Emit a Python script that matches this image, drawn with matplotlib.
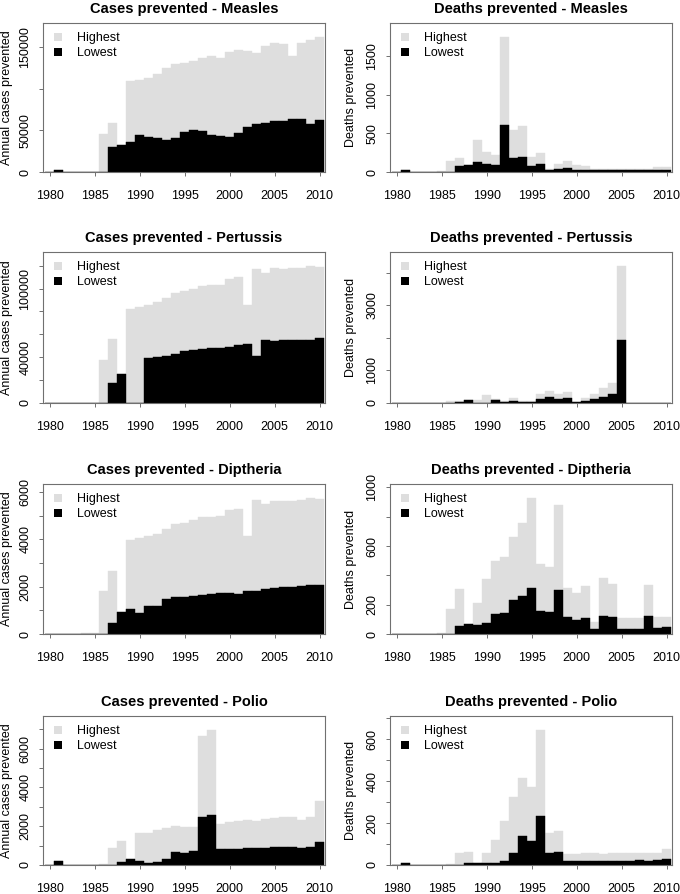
import numpy as np
import matplotlib.pyplot as plt
from matplotlib.patches import Patch

plt.rcParams['font.family'] = ['Liberation Sans', 'DejaVu Sans']

years = list(range(1980, 2011))

# ---- measles ----
measles_cases_hi = [0, 3000, 0, 300, 600, 600, 45600, 58700, 32000, 109500, 111100,
                    113500, 118200, 125000, 129800, 131700, 134100, 136900, 139300, 136900,
                    144000, 147200, 146000, 143600, 152000, 155900, 154000, 139300, 155900,
                    159500, 163100]
measles_cases_lo = [0, 3000, 0, 0, 0, 0, 0, 29800, 32100, 35700, 44800,
                    42500, 40500, 38500, 41300, 48000, 50000, 48800, 44800, 43600,
                    42100, 46400, 53600, 58300, 59500, 61100, 61100, 63900, 63900,
                    58300, 63100]
measles_deaths_hi = [0, 20, 0, 3, 5, 8, 141, 180, 94, 411, 261,
                     219, 1753, 540, 596, 197, 244, 34, 103, 141,
                     94, 77, 39, 39, 39, 39, 39, 39, 39,
                     60, 60]
measles_deaths_lo = [0, 20, 0, 0, 0, 0, 0, 81, 94, 133, 107,
                     86, 604, 176, 197, 77, 99, 26, 43, 51,
                     30, 26, 21, 20, 20, 20, 20, 20, 20,
                     21, 21]

# ---- pertussis ----
pert_cases_hi = [0, 0, 0, 300, 300, 300, 37900, 55600, 25000, 82600, 84100,
                 85600, 87900, 91700, 96400, 97600, 100000, 102600, 102900, 103500,
                 108800, 110000, 86100, 117300, 113800, 117600, 117000, 117600, 118200,
                 120000, 119100]
pert_cases_lo = [0, 0, 0, 0, 0, 0, 300, 17600, 25000, 0, 0,
                 39700, 40600, 41200, 42600, 45300, 46200, 47600, 48200, 48200,
                 49100, 50900, 52000, 41200, 54700, 53800, 55000, 55300, 55300,
                 55300, 56400]
pert_deaths_hi = [0, 0, 0, 0, 0, 10, 50, 50, 103, 83, 238,
                  134, 52, 165, 52, 52, 269, 372, 279, 352,
                  41, 155, 290, 476, 600, 4219, 5, 5, 5,
                  5, 5]
pert_deaths_lo = [0, 0, 0, 0, 0, 0, 5, 20, 103, 5, 10,
                  83, 31, 72, 41, 41, 134, 186, 124, 165,
                  21, 72, 134, 176, 290, 1923, 5, 5, 5,
                  5, 5]

# ---- diptheria ----
dip_cases_hi = [0, 0, 0, 20, 30, 30, 1836, 2683, 946, 3983, 4054,
                4124, 4223, 4435, 4647, 4690, 4802, 4929, 4958, 5000,
                5226, 5297, 4153, 5650, 5494, 5636, 5607, 5636, 5678,
                5763, 5720]
dip_cases_lo = [0, 0, 0, 0, 0, 0, 0, 452, 946, 1073, 876,
                1186, 1186, 1500, 1550, 1580, 1620, 1630, 1680, 1730,
                1730, 1710, 1800, 1830, 1890, 1930, 1980, 1990, 2030,
                2060, 2090]
dip_deaths_hi = [0, 0, 0, 0, 2, 5, 170, 307, 66, 211, 375,
                 498, 525, 664, 757, 930, 477, 457, 877, 311,
                 280, 325, 80, 382, 339, 107, 107, 107, 334,
                 116, 116]
dip_deaths_lo = [0, 0, 0, 0, 0, 0, 0, 52, 66, 61, 77,
                 136, 145, 230, 259, 314, 159, 150, 298, 114,
                 98, 107, 36, 123, 116, 36, 36, 36, 125,
                 39, 45]

# ---- polio ----
polio_cases_hi = [0, 205, 0, 0, 0, 0, 50, 890, 1250, 310, 1640,
                  1640, 1780, 1910, 2000, 1980, 1950, 6660, 6980, 2130,
                  2200, 2270, 2340, 2250, 2390, 2440, 2490, 2490, 2340,
                  2490, 3300]
polio_cases_lo = [0, 205, 0, 0, 0, 0, 0, 0, 170, 310, 205,
                  100, 170, 320, 650, 610, 730, 2480, 2580, 840,
                  840, 840, 890, 890, 890, 920, 920, 920, 890,
                  920, 1190]
polio_deaths_hi = [0, 10, 0, 0, 0, 0, 3, 59, 62, 10, 59,
                   119, 209, 327, 417, 373, 647, 155, 162, 52,
                   52, 56, 56, 54, 56, 57, 57, 57, 56,
                   59, 75]
polio_deaths_lo = [0, 10, 0, 0, 0, 0, 0, 0, 10, 10, 10,
                   10, 19, 56, 138, 116, 236, 57, 60, 21,
                   21, 21, 21, 21, 21, 21, 21, 24, 21,
                   24, 27]

GREY = '#dedede'
BOX = '#707070'


def draw_panel(ax, title, ylabel, hi, lo, ticks, labels, label_x):
    ax.bar(years, hi, width=1, color=GREY, edgecolor=GREY, linewidth=0.3)
    ax.bar(years, lo, width=1, color='black', edgecolor='black', linewidth=0.3)
    ax.set_xlim(1979.25, 2010.6)
    ax.set_ylim(0, 1.1 * max(hi))
    ax.set_xticks(range(1980, 2011, 5))
    ax.set_yticks(ticks)
    ax.set_yticklabels(labels, rotation=90, va='center')
    ax.tick_params(labelsize=9, length=3, width=0.7, color=BOX)
    ax.tick_params(axis='x', pad=10)
    ax.tick_params(axis='y', pad=5.5)
    for s in ax.spines.values():
        s.set_color(BOX)
        s.set_linewidth(0.8)
    ax.set_title(title, fontsize=10.5, fontweight='bold', pad=7)
    ax.set_ylabel(ylabel, fontsize=9)
    ax.yaxis.set_label_coords(label_x, 0.5)
    handles = [Patch(facecolor=GREY, edgecolor='none'),
               Patch(facecolor='black', edgecolor='none')]
    ax.legend(handles, ['Highest', 'Lowest'], loc='upper left', frameon=False,
              fontsize=9, handlelength=0.6, handleheight=0.6, handletextpad=1.2,
              labelspacing=0.25, borderpad=0, borderaxespad=0,
              bbox_to_anchor=(0.04, 0.94))


fig = plt.figure(figsize=(6.8, 8.94), dpi=100)
W, H = 680, 894
rows = [(23, 172), (252, 403), (484, 634), (716, 865)]
cols = [(43, 325), (390, 672)]

panels = [
    ('Measles', measles_cases_hi, measles_cases_lo, [0, 50000, 100000, 150000],
     ['0', '50000', '', '150000'],
     measles_deaths_hi, measles_deaths_lo, [0, 500, 1000, 1500], ['0', '500', '1000', '1500']),
    ('Pertussis', pert_cases_hi, pert_cases_lo, list(range(0, 120001, 20000)),
     ['0', '', '40000', '', '', '100000', ''],
     pert_deaths_hi, pert_deaths_lo, [0, 1000, 2000, 3000, 4000], ['0', '1000', '', '3000', '']),
    ('Diptheria', dip_cases_hi, dip_cases_lo, list(range(0, 6001, 1000)),
     ['0', '', '2000', '', '4000', '', '6000'],
     dip_deaths_hi, dip_deaths_lo, list(range(0, 1001, 200)), ['0', '200', '', '600', '', '1000']),
    ('Polio', polio_cases_hi, polio_cases_lo, list(range(0, 7001, 1000)),
     ['0', '', '2000', '', '4000', '', '6000', ''],
     polio_deaths_hi, polio_deaths_lo, list(range(0, 701, 100)),
     ['0', '', '200', '', '400', '', '600', '']),
]

for (top, bot), p in zip(rows, panels):
    name, ch, cl, ct, ctl, dh, dl, dt, dtl = p
    axl = fig.add_axes([cols[0][0] / W, 1 - bot / H, (cols[0][1] - cols[0][0]) / W, (bot - top) / H])
    draw_panel(axl, 'Cases prevented - ' + name, 'Annual cases prevented', ch, cl, ct, ctl, -0.108)
    axr = fig.add_axes([cols[1][0] / W, 1 - bot / H, (cols[1][1] - cols[1][0]) / W, (bot - top) / H])
    draw_panel(axr, 'Deaths prevented - ' + name, 'Deaths prevented', dh, dl, dt, dtl, -0.117)

fig.savefig('out.png', dpi=100)
